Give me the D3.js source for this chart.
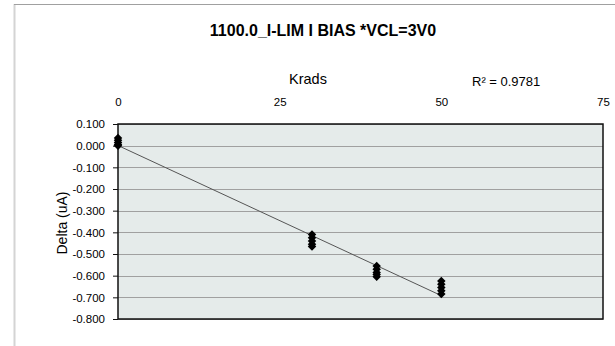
<!DOCTYPE html>
<html><head><meta charset="utf-8">
<script src="https://cdn.jsdelivr.net/npm/d3@7"></script>
<style>body{margin:0;background:#fff}svg{display:block;font-family:"Liberation Sans",Arial,sans-serif}</style>
</head><body>
<svg id="c" width="615" height="346"></svg>
<script>
const doses = [0, 30, 40, 50];
const delta0 = [0.035, 0.025, 0.015, 0.005, 0.000];
const delta30 = [-0.41, -0.425, -0.44, -0.455, -0.465];
const delta40 = [-0.555, -0.57, -0.585, -0.595, -0.605];
const delta50 = [-0.625, -0.64, -0.655, -0.67, -0.685];
const xTicks = [0, 25, 50, 75];
const yTicks = [0.1, 0.0, -0.1, -0.2, -0.3, -0.4, -0.5, -0.6, -0.7, -0.8];
const title = "1100.0_I-LIM I BIAS *VCL=3V0";
const xTitle = "Krads", yTitle = "Delta (uA)", r2Label = "R² = 0.9781";

const svg = d3.select("#c");
// outer frame
svg.append("line").attr("x1",14.5).attr("x2",14.5).attr("y1",4).attr("y2",346).attr("stroke","#d4d4d4").attr("stroke-width",2);
svg.append("line").attr("x1",14).attr("x2",615).attr("y1",4.5).attr("y2",4.5).attr("stroke","#a0a0a0").attr("stroke-width",1);

const L=118, R=603, T=124, B=319;
const x = d3.scaleLinear().domain([0,75]).range([L,R]);
const y = d3.scaleLinear().domain([-0.8,0.1]).range([B,T]);

svg.append("rect").attr("x",L).attr("y",T).attr("width",R-L).attr("height",B-T).attr("fill","#e5ebea");
svg.append("g").selectAll("line").data(yTicks).join("line")
  .attr("x1",L).attr("x2",R).attr("y1",d=>Math.round(y(d))+0.5).attr("y2",d=>Math.round(y(d))+0.5)
  .attr("stroke","#a0a0a0").attr("stroke-width",1);
svg.append("rect").attr("x",L).attr("y",T).attr("width",R-L).attr("height",B-T).attr("fill","none").attr("stroke","#111").attr("stroke-width",1.5);

// axes
const yAxis = svg.append("g").attr("transform",`translate(${L},0)`)
  .call(d3.axisLeft(y).tickValues(yTicks).tickFormat(d3.format(".3f")).tickSize(5).tickPadding(8));
yAxis.select(".domain").remove();
yAxis.selectAll("text").attr("font-size",11.5).attr("fill","#000").attr("font-family","Liberation Sans, Arial, sans-serif")
  .text(d=>d3.format(".3f")(d).replace("−","-"));
yAxis.selectAll("line").attr("stroke","#111");

const xAxis = svg.append("g").attr("transform",`translate(0,${T-18})`)
  .call(d3.axisTop(x).tickValues(xTicks).tickSize(0).tickPadding(0));
xAxis.select(".domain").remove();
xAxis.selectAll("text").attr("font-size",11.5).attr("fill","#000").attr("font-family","Liberation Sans, Arial, sans-serif");

// titles
svg.append("text").attr("x",323).attr("y",36).attr("text-anchor","middle").attr("font-size",16).attr("font-weight","bold").text(title);
svg.append("text").attr("x",308).attr("y",84).attr("text-anchor","middle").attr("font-size",14.5).text(xTitle);
svg.append("text").attr("x",472).attr("y",86).attr("font-size",13).text(r2Label);
svg.append("text").attr("transform","translate(67,223) rotate(-90)").attr("text-anchor","middle").attr("font-size",14).text(yTitle);

// data points
const series = [delta0, delta30, delta40, delta50];
const pts = [];
series.forEach((vals,i)=>vals.forEach(v=>pts.push({x:doses[i], y:v})));

// linear trendline from data
const mx = d3.mean(pts,d=>d.x), my = d3.mean(pts,d=>d.y);
const slope = d3.sum(pts,d=>(d.x-mx)*(d.y-my))/d3.sum(pts,d=>(d.x-mx)**2);
const icpt = my - slope*mx;
const xr = d3.extent(pts,d=>d.x);
svg.append("line").attr("x1",x(xr[0])).attr("y1",y(icpt+slope*xr[0])).attr("x2",x(xr[1])).attr("y2",y(icpt+slope*xr[1]))
  .attr("stroke","#555").attr("stroke-width",1);

const sym = d3.symbol().type(d3.symbolSquare).size(36);
svg.append("g").selectAll("path").data(pts).join("path")
  .attr("d",sym).attr("transform",d=>`translate(${x(d.x)},${y(d.y)}) rotate(45)`).attr("fill","#000");
</script>
</body></html>
